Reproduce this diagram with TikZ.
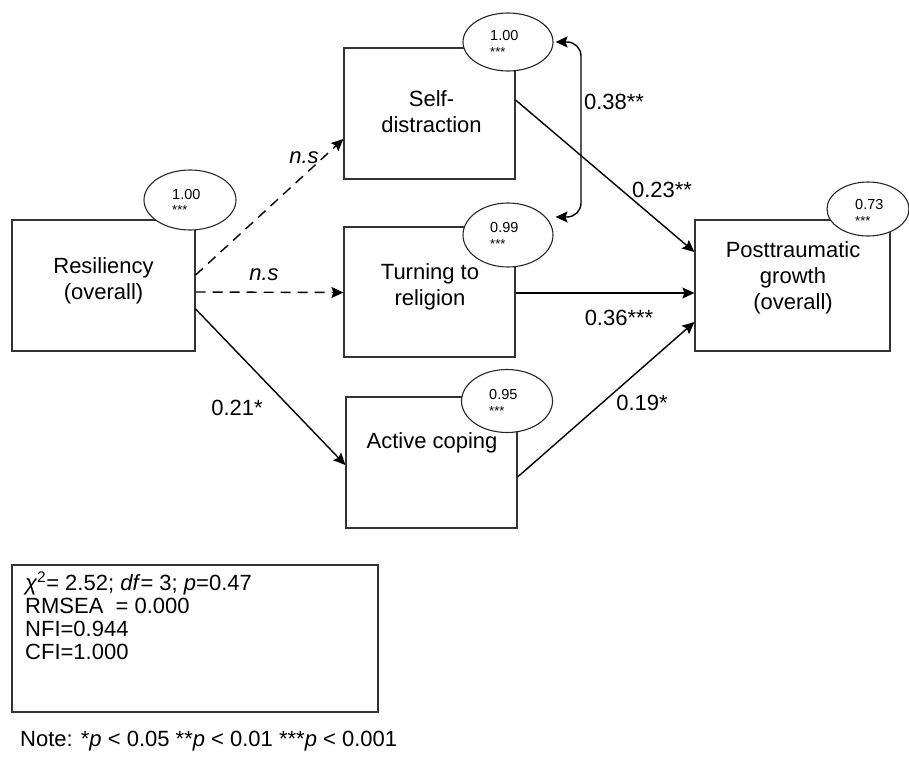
\documentclass[tikz,border=0pt]{standalone}
\usepackage{fontspec}
\setmainfont{Liberation Sans}
\usetikzlibrary{arrows.meta,shapes.geometric}
\begin{document}
\begin{tikzpicture}[x=1pt,y=-1pt,
  box/.style={draw=black!80, line width=1.2pt, rectangle, inner sep=0pt, fill=white},
  err/.style={draw=black!85, line width=1.1pt, ellipse, inner sep=0pt, fill=white},
  lbl/.style={font=\fontsize{22}{26}\selectfont, align=center, inner sep=0pt},
  val/.style={font=\fontsize{14.5}{14.5}\selectfont, anchor=base west, inner sep=0pt},
  stars/.style={font=\fontsize{13}{13}\selectfont, anchor=base west, inner sep=0pt},
  arr/.style={-{Stealth[length=12pt,width=11pt,inset=2pt]}, line width=1.4pt},
  dbl/.style={{Stealth[length=12pt,width=11pt,inset=2pt]}-{Stealth[length=12pt,width=11pt,inset=2pt]}, line width=1.4pt},
  dsh/.style={arr, dash pattern=on 10pt off 7pt},
  coef/.style={font=\fontsize{22}{22}\selectfont, inner sep=0pt},
  fit/.style={font=\fontsize{22}{20}\selectfont, anchor=base west, inner sep=0pt},
]
\useasboundingbox[fill=white] (0,0) rectangle (909,757);

% boxes
\node[box, minimum width=183pt, minimum height=131pt] (R) at (103.5,285.5) {};
\node[box, minimum width=171pt, minimum height=131pt] (S) at (429.5,113.5) {};
\node[box, minimum width=171pt, minimum height=130pt] (T) at (429.5,292) {};
\node[box, minimum width=171pt, minimum height=131pt] (A) at (431.5,462.5) {};
\node[box, minimum width=195pt, minimum height=131pt] (P) at (792.5,285.5) {};

% box labels
\node[lbl] (tR) at (103.5,281) {Resiliency\\(overall)};
\node[lbl] (tS) at (431.5,112) {Self-\\distraction};
\node[lbl] (tT) at (430,287) {Turning to\\religion};
\node[lbl] (tA) at (432,443) {Active coping};
\node[lbl] (tP) at (793,278) {Posttraumatic\\growth\\(overall)};

% error ellipses
\node[err, minimum width=92pt, minimum height=60pt] (eR) at (190,200) {};
\node[err, minimum width=90pt, minimum height=58pt] (eS) at (508,42) {};
\node[err, minimum width=90pt, minimum height=64pt] (eT) at (508,235) {};
\node[err, minimum width=91pt, minimum height=63pt] (eA) at (507,401) {};
\node[err, minimum width=82pt, minimum height=54pt] (eP) at (868,209) {};

\node[val] (vR) at (172,199) {1.00};
\node[stars] (sR) at (172,214) {***};
\node[val] (vS) at (490,41) {1.00};
\node[stars] (sS) at (490,57) {***};
\node[val] (vT) at (490,232) {0.99};
\node[stars] (sT) at (490,248) {***};
\node[val] (vA) at (489,399) {0.95};
\node[stars] (sA) at (489,415) {***};
\node[val] (vP) at (855,209) {0.73};
\node[stars] (sP) at (855,225) {***};

% paths
\draw[dsh] ([yshift=10.5pt]R.east) -- ([yshift=-25.5pt]S.west);
\draw[dsh] ([yshift=-6.5pt]R.east) -- ([yshift=-0.5pt]T.west);
\draw[arr] ([yshift=-23.5pt]R.east) -- ([yshift=-2.5pt]A.west);
\draw[arr] ([yshift=13.5pt]S.east) -- ([yshift=33.5pt]P.west);
\draw[arr] ([yshift=-1pt]T.east) -- ([yshift=-7.5pt]P.west);
\draw[arr] ([yshift=-14.5pt]A.east) -- ([yshift=-36.5pt]P.west);

\coordinate (cr) at (581,130);
\draw[dbl, rounded corners=14pt] ([xshift=2pt]eS.east) -| (cr) |- ([xshift=2pt,yshift=18pt]eT.east);

% coefficients
\node[coef] (ns1) at (304,158) {\itshape n.s};
\node[coef] (ns2) at (264,275) {\itshape n.s};
\node[coef] (c21) at (237,408) {0.21*};
\node[coef] (c38) at (614,102) {0.38**};
\node[coef] (c23) at (662,190) {0.23**};
\node[coef] (c36) at (619,318) {0.36***};
\node[coef] (c19) at (642,403) {0.19*};

% fit box
\node[box, minimum width=366pt, minimum height=147pt] (F) at (195,638.5) {};
\node[fit] (f1) at (25,590) {{\itshape χ}\textsuperscript{2}= 2.52; \textit{df}= 3; \textit{p}=0.47};
\node[fit] (f2) at (25,613) {RMSEA\ \ = 0.000};
\node[fit] (f3) at (25,636) {NFI=0.944};
\node[fit] (f4) at (25,659) {CFI=1.000};

\node[fit] (note) at (20,746) {Note: *\textit{p} < 0.05 **\textit{p} < 0.01 ***\textit{p} < 0.001};
\end{tikzpicture}
\end{document}
